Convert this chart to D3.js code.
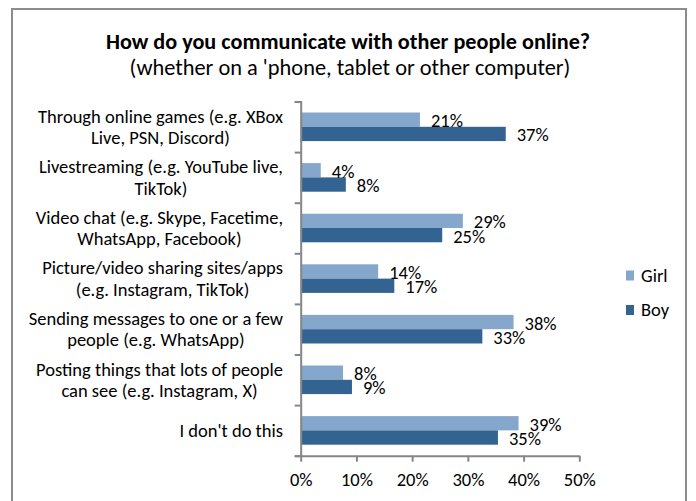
<!DOCTYPE html>
<html>
<head>
<meta charset="utf-8">
<script src="https://cdn.jsdelivr.net/npm/d3@7"></script>
<style>
  body { margin: 0; background: #fff; }
  svg text { font-family: Carlito, Lato, "Open Sans", sans-serif; fill: #000; }
</style>
</head>
<body>
<script>
const categories = [
    ['Through online games (e.g. XBox', 'Live, PSN, Discord)'],
    ['Livestreaming (e.g. YouTube live,', 'TikTok)'],
    ['Video chat (e.g. Skype, Facetime,', 'WhatsApp, Facebook)'],
    ['Picture/video sharing sites/apps', '(e.g. Instagram, TikTok)'],
    ['Sending messages to one or a few', 'people (e.g. WhatsApp)'],
    ['Posting things that lots of people', 'can see (e.g. Instagram, X)'],
    ["I don't do this"]
];
const seriesNames = ['Girl', 'Boy'];
const girlValues = [21.4, 3.6, 29.1, 13.9, 38.2, 7.6, 39.1];
const boyValues = [36.8, 8.1, 25.4, 16.8, 32.6, 9.2, 35.4];
const tickValues = [0, 10, 20, 30, 40, 50];

const width = 696,
    height = 501;
const fontSize = '18.5px';

const colors = d3.scaleOrdinal()
    .domain(seriesNames)
    .range(['#85a7cc', '#336391']);

const svg = d3.select('body')
    .append('svg')
    .attr('width', width)
    .attr('height', height);

// outer chart border
svg.append('rect')
    .attr('x', 12)
    .attr('y', 9)
    .attr('width', 674)
    .attr('height', 500)
    .attr('fill', 'none')
    .attr('stroke', '#8c8c8c')
    .attr('stroke-width', 2);

svg.append('text')
    .attr('x', 348)
    .attr('y', 49)
    .attr('text-anchor', 'middle')
    .style('font-size', '22.2px')
    .style('font-weight', 'bold')
    .text('How do you communicate with other people online?');

svg.append('text')
    .attr('x', 350)
    .attr('y', 75)
    .attr('text-anchor', 'middle')
    .style('font-size', '22.4px')
    .text("(whether on a 'phone, tablet or other computer)");

const x = d3.scaleLinear()
    .domain([0, 50])
    .range([300.7, 579.3]);

const y = d3.scaleBand()
    .domain(d3.range(categories.length))
    .range([101.5, 455.7])
    .paddingInner(0.435)
    .paddingOuter(0.2175);

const ySeries = d3.scaleBand()
    .domain(seriesNames)
    .range([0, y.bandwidth()]);

const rows = categories.map((c, i) => ({
    i: i,
    values: [
        { name: 'Girl', value: girlValues[i] },
        { name: 'Boy', value: boyValues[i] }
    ]
}));

const group = svg.selectAll('g.cat')
    .data(rows)
    .enter()
    .append('g')
    .attr('class', 'cat')
    .attr('transform', d => 'translate(0,' + y(d.i) + ')');

group.selectAll('rect')
    .data(d => d.values)
    .enter()
    .append('rect')
    .attr('x', x(0))
    .attr('y', d => ySeries(d.name))
    .attr('width', d => x(d.value) - x(0))
    .attr('height', ySeries.bandwidth())
    .attr('fill', d => colors(d.name));

group.selectAll('text.val')
    .data(d => d.values)
    .enter()
    .append('text')
    .attr('class', 'val')
    .attr('x', d => x(d.value) + 11)
    .attr('y', d => ySeries(d.name) + ySeries.bandwidth() / 2 + 1)
    .attr('dy', '0.35em')
    .style('font-size', fontSize)
    .text(d => Math.round(d.value) + '%');

// y axis line and category ticks
const yAxis = d3.axisLeft(d3.scaleLinear().domain([0, categories.length]).range([101.5, 455.7]))
    .ticks(categories.length)
    .tickSize(6)
    .tickFormat('');
svg.append('g')
    .attr('transform', 'translate(' + x(0) + ',0)')
    .call(yAxis)
    .call(g => g.selectAll('line, path').attr('stroke', '#868686').attr('stroke-width', 2));

// x axis
const xAxis = d3.axisBottom(x)
    .tickValues(tickValues)
    .tickSize(6)
    .tickSizeOuter(0)
    .tickPadding(11)
    .tickFormat(d => d + '%');
svg.append('g')
    .attr('transform', 'translate(0,455.7)')
    .call(xAxis)
    .call(g => g.selectAll('line, path').attr('stroke', '#868686').attr('stroke-width', 2))
    .call(g => g.selectAll('text').style('font-size', fontSize).style('font-family', 'Carlito, Lato, sans-serif').attr('fill', '#000'));

// category labels, lines centred within a right-aligned block
const labels = svg.selectAll('g.lab')
    .data(categories)
    .enter()
    .append('g')
    .attr('class', 'lab');

labels.each(function (lines, i) {
    const g = d3.select(this);
    const cy = y(i) + y.bandwidth() / 2;
    const lh = 21.5;
    const t = g.selectAll('text')
        .data(lines)
        .enter()
        .append('text')
        .attr('text-anchor', 'middle')
        .attr('y', (d, j) => cy + (j - (lines.length - 1) / 2) * lh)
        .attr('dy', '0.35em')
        .style('font-size', fontSize)
        .text(d => d);
    let maxW = 0;
    t.each(function () { maxW = Math.max(maxW, this.getComputedTextLength()); });
    t.attr('x', 283 - maxW / 2);
});

// legend
const legend = svg.selectAll('g.leg')
    .data(seriesNames)
    .enter()
    .append('g')
    .attr('class', 'leg')
    .attr('transform', (d, i) => 'translate(626,' + (275.5 + i * 34.5) + ')');

legend.append('rect')
    .attr('x', 0)
    .attr('y', -5)
    .attr('width', 8)
    .attr('height', 10)
    .attr('fill', d => colors(d));

legend.append('text')
    .attr('x', 15)
    .attr('y', 0)
    .attr('dy', '0.35em')
    .style('font-size', fontSize)
    .text(d => d);
</script>
</body>
</html>
